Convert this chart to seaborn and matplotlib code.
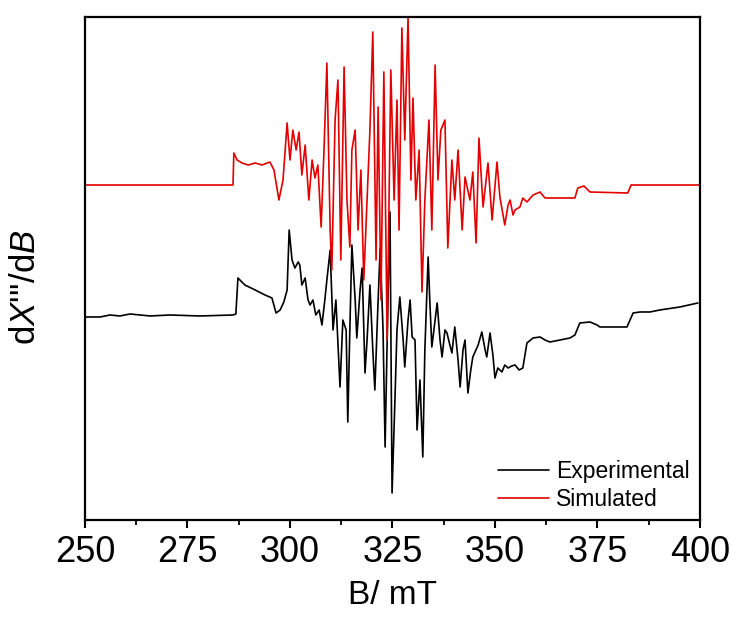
import matplotlib
matplotlib.use("Agg")
import matplotlib.pyplot as plt
import seaborn as sns
import pandas as pd
from matplotlib.ticker import MultipleLocator

# Magnetic field (mT) and derivative intensity (arbitrary units)
sim_B = [250.0, 286.1, 286.3, 287.1, 288.3, 289.8, 291.5, 293.2, 295.1, 296.1, 297.3, 298.3,
         299.3, 300.0, 300.7, 301.5, 302.2, 302.9, 303.7, 304.6, 305.4, 306.1, 306.8, 307.6,
         308.3, 309.0, 309.8, 310.2, 311.0, 311.7, 312.4, 313.2, 313.9, 314.6, 315.1, 315.9,
         316.6, 317.3, 318.0, 318.8, 319.5, 320.2, 321.0, 321.5, 322.2, 322.9, 323.7, 324.6,
         325.4, 326.1, 326.6, 327.3, 328.0, 328.8, 329.5, 330.0, 330.7, 331.5, 332.2, 332.9,
         333.9, 334.6, 335.4, 336.1, 336.8, 337.8, 338.5, 339.5, 340.2, 341.0, 342.0, 342.7,
         343.9, 344.6, 345.4, 346.1, 347.1, 348.3, 349.3, 350.5, 351.2, 352.4, 353.2, 353.7,
         354.4, 354.9, 356.1, 356.8, 357.8, 359.3, 361.0, 362.2, 369.5, 370.2, 371.7, 373.2,
         382.4, 383.2, 400.0]
sim_I = [335, 335, 367, 360, 357, 355, 357, 355, 358, 350, 320, 340,
         397, 360, 390, 370, 388, 345, 375, 320, 360, 342, 355, 293,
         370, 457, 290, 250, 400, 440, 260, 453, 320, 273, 370, 390,
         290, 350, 240, 320, 390, 488, 260, 413, 220, 448, 180, 450,
         320, 420, 290, 492, 380, 502, 340, 422, 320, 370, 228, 320,
         400, 290, 455, 340, 390, 400, 272, 360, 320, 370, 290, 343,
         320, 348, 277, 382, 313, 357, 300, 358, 323, 295, 315, 320,
         305, 310, 313, 322, 318, 325, 328, 322, 322, 332, 334, 328,
         327, 335, 335]

exp_B = [250.0, 253.7, 256.1, 258.5, 261.0, 265.9, 270.7, 278.0, 286.1, 286.8, 287.3, 289.0,
         291.5, 293.9, 295.6, 296.6, 297.6, 298.5, 299.3, 299.8, 300.5, 301.2, 302.0, 302.4,
         302.9, 303.7, 304.4, 304.9, 305.6, 306.3, 307.1, 307.8, 308.5, 309.0, 309.8, 310.5,
         311.2, 312.2, 312.9, 313.7, 314.1, 314.6, 315.1, 315.9, 316.3, 317.1, 317.6, 318.3,
         318.8, 319.5, 320.2, 320.7, 321.5, 322.0, 322.7, 323.2, 323.9, 324.4, 324.9, 325.6,
         326.1, 326.8, 327.6, 328.0, 328.8, 329.3, 329.8, 330.5, 331.0, 331.7, 332.4, 332.9,
         333.7, 334.1, 334.6, 335.4, 335.9, 336.6, 337.1, 337.8, 338.3, 339.0, 339.5, 340.2,
         341.0, 341.5, 342.2, 342.7, 343.4, 344.1, 344.6, 345.9, 346.8, 347.6, 348.0, 348.8,
         349.5, 350.0, 350.7, 351.7, 352.4, 353.2, 354.1, 354.9, 355.9, 356.8, 357.8, 359.3,
         361.0, 362.2, 363.4, 365.9, 368.3, 369.5, 370.7, 373.2, 374.9, 375.6, 382.2, 383.7,
         385.4, 387.8, 390.2, 395.1, 399.5]
exp_I = [203, 203, 205, 204, 206, 204, 205, 204, 205, 206, 242, 235,
         230, 225, 222, 207, 210, 218, 230, 290, 260, 252, 258, 255,
         235, 242, 220, 215, 220, 205, 210, 195, 220, 240, 270, 190,
         220, 133, 200, 190, 98, 190, 275, 220, 182, 230, 252, 147,
         180, 235, 170, 130, 220, 272, 190, 73, 220, 308, 27, 120,
         190, 223, 180, 153, 200, 220, 183, 180, 90, 140, 63, 170,
         263, 220, 173, 200, 217, 180, 163, 190, 187, 175, 167, 193,
         160, 133, 170, 180, 127, 150, 163, 175, 188, 170, 163, 187,
         165, 142, 152, 148, 155, 152, 154, 155, 150, 152, 177, 182,
         183, 180, 178, 180, 182, 185, 197, 198, 195, 193, 193, 207,
         208, 208, 210, 213, 217]

x_ticks = [250, 275, 300, 325, 350, 375, 400]

sns.set_theme(style="white")
plt.rcParams['font.family'] = ['Liberation Sans', 'DejaVu Sans']
plt.rcParams['mathtext.fontset'] = 'custom'
plt.rcParams['mathtext.it'] = 'Liberation Sans:italic'
plt.rcParams['mathtext.rm'] = 'Liberation Sans'
plt.rcParams['text.color'] = 'black'
plt.rcParams['axes.labelcolor'] = 'black'
plt.rcParams['xtick.color'] = 'black'

fig = plt.figure(figsize=(7.36, 6.19), dpi=100)
ax = fig.add_axes([0.1155, 0.16, 0.8355, 0.8125])

df_exp = pd.DataFrame({"B": exp_B, "I": exp_I})
df_sim = pd.DataFrame({"B": sim_B, "I": sim_I})
sns.lineplot(data=df_exp, x="B", y="I", ax=ax, color="black", lw=1.2,
             sort=False, estimator=None, label="Experimental")
sns.lineplot(data=df_sim, x="B", y="I", ax=ax, color="#e30000", lw=1.2,
             sort=False, estimator=None, label="Simulated")

ax.set_xlim(250, 400)
ax.set_ylim(0, 503)
ax.set_xticks(x_ticks)
ax.xaxis.set_minor_locator(MultipleLocator(12.5))
ax.set_yticks([])
ax.tick_params(axis='x', which='major', direction='out', length=6, width=1.5,
               labelsize=26, bottom=True, color='black', labelcolor='black', pad=5)
ax.tick_params(axis='x', which='minor', direction='out', length=3.5, width=1.3,
               bottom=True, color='black')
for s in ax.spines.values():
    s.set_color('black')
    s.set_linewidth(1.6)

ax.set_xlabel("B/ mT", fontsize=24, labelpad=7)
ax.set_ylabel(r"d$\mathit{X}$'''/d$\mathit{B}$", fontsize=25)
ax.yaxis.set_label_coords(-0.07, 0.463)

leg = ax.legend(loc='lower right', bbox_to_anchor=(0.983, 0.018), frameon=False,
                fontsize=16.5, handlelength=2.25, handletextpad=0.28,
                labelspacing=0.2, borderpad=0, borderaxespad=0)

fig.savefig("out.png", dpi=100)
